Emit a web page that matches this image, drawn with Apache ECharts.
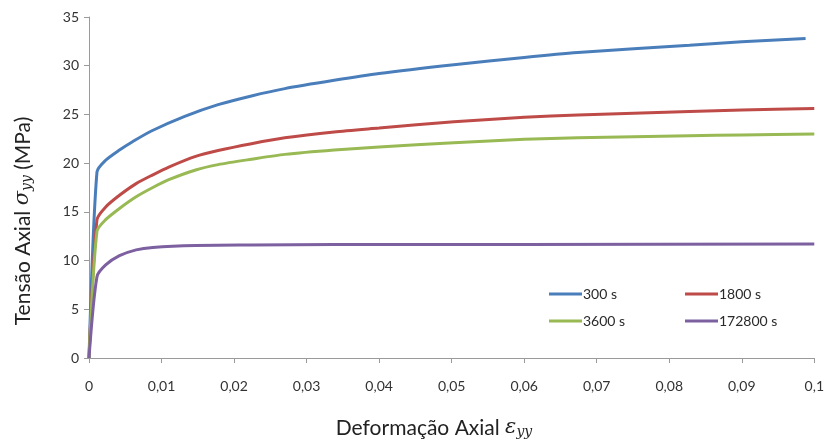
<!DOCTYPE html>
<html>
<head>
<meta charset="utf-8">
<script src="https://cdn.jsdelivr.net/npm/echarts@6/dist/echarts.min.js"></script>
<style>html,body{margin:0;padding:0;background:#fff}#c{width:827px;height:441px}</style>
</head>
<body>
<div id="c"></div>
<script>
const seriesNames = ['300 s', '1800 s', '3600 s', '172800 s'];
const x300 = [0, 0.0011, 0.0023, 0.0042, 0.006, 0.0086, 0.0132, 0.0178, 0.0224, 0.027, 0.0338, 0.04, 0.0503, 0.06, 0.0674, 0.0828, 0.09, 0.0988];
const y300 = [0, 19.1, 20.3, 21.35, 22.2, 23.3, 24.8, 26.0, 26.9, 27.65, 28.5, 29.2, 30.1, 30.85, 31.35, 32.1, 32.45, 32.8];
const x1800 = [0, 0.0011, 0.0023, 0.0042, 0.0065, 0.0088, 0.011, 0.0147, 0.0178, 0.0224, 0.027, 0.0338, 0.04, 0.0503, 0.06, 0.0674, 0.0828, 0.09, 0.1];
const y1800 = [0, 14.2, 15.5, 16.7, 17.9, 18.8, 19.6, 20.7, 21.3, 22.0, 22.6, 23.2, 23.6, 24.25, 24.7, 24.95, 25.3, 25.45, 25.6];
const x3600 = [0, 0.0011, 0.0023, 0.0042, 0.0065, 0.0088, 0.011, 0.0147, 0.0178, 0.0224, 0.027, 0.0338, 0.04, 0.0503, 0.06, 0.0674, 0.0828, 0.09, 0.1];
const y3600 = [0, 13.0, 14.2, 15.35, 16.55, 17.5, 18.3, 19.3, 19.85, 20.4, 20.9, 21.35, 21.65, 22.1, 22.45, 22.6, 22.8, 22.9, 23.0];
const x172800 = [0, 0.0011, 0.0023, 0.0042, 0.0065, 0.0088, 0.0147, 0.0224, 0.0338, 0.06, 0.1];
const y172800 = [0, 8.35, 9.55, 10.5, 11.1, 11.35, 11.55, 11.6, 11.65, 11.65, 11.7];
const colors = ['#4A7EBB', '#BE4B48', '#98B954', '#7D60A0'];
const xTickInterval = 0.01;
const yTickInterval = 5;

const xs = [x300, x1800, x3600, x172800];
const ys = [y300, y1800, y3600, y172800];
const font = 'Lato, "Open Sans", sans-serif';
const mathFont = '"DejaVu Serif", serif';

const titleRich = {
  a: { fontSize: 21, fill: '#222', fontFamily: font },
  g: { fontSize: 21, fill: '#222', fontStyle: 'italic', fontFamily: mathFont },
  s: { fontSize: 14, fill: '#222', fontStyle: 'italic', fontFamily: mathFont, padding: [9, 0, 0, 0] }
};

const chart = echarts.init(document.getElementById('c'));
chart.setOption({
  animation: false,
  textStyle: { fontFamily: font },
  grid: { left: 89, right: 10, top: 17, bottom: 83 },
  legend: [
    { data: ['300 s', '3600 s'], left: 544, top: 282, orient: 'vertical', icon: 'rect',
      itemWidth: 33, itemHeight: 3, itemGap: 13,
      textStyle: { fontSize: 14, color: '#2a2a2a', fontFamily: font, padding: [0, 0, 0, -4] } },
    { data: ['1800 s', '172800 s'], left: 680, top: 282, orient: 'vertical', icon: 'rect',
      itemWidth: 33, itemHeight: 3, itemGap: 13,
      textStyle: { fontSize: 14, color: '#2a2a2a', fontFamily: font, padding: [0, 0, 0, -4] } }
  ],
  xAxis: {
    type: 'value', min: 0, max: 0.1, interval: xTickInterval,
    axisLine: { lineStyle: { color: '#9a9a9a', width: 1 } },
    axisTick: { length: 5, lineStyle: { color: '#9a9a9a' } },
    axisLabel: { margin: 21, fontSize: 14, color: '#333',
      formatter: v => String(+v.toFixed(2)).replace('.', ',') },
    splitLine: { show: false }
  },
  yAxis: {
    type: 'value', min: 0, max: 35, interval: yTickInterval,
    axisLine: { show: true, lineStyle: { color: '#9a9a9a', width: 1 } },
    axisTick: { show: true, length: 5, lineStyle: { color: '#9a9a9a' } },
    axisLabel: { margin: 10, fontSize: 14, color: '#333' },
    splitLine: { show: false }
  },
  graphic: [{
    type: 'text', x: 23, y: 221, rotation: Math.PI / 2,
    style: {
      text: '{a|Tensão Axial }{g|σ}{s|yy}{a| (MPa)}',
      align: 'center', verticalAlign: 'middle', rich: titleRich
    }
  }, {
    type: 'text', x: 434, y: 428,
    style: {
      text: '{a|Deformação Axial }{g|ε}{s|yy}',
      align: 'center', verticalAlign: 'middle', rich: titleRich
    }
  }],
  series: seriesNames.map((n, i) => ({
    name: n, type: 'line', showSymbol: false, smooth: 0.25,
    color: colors[i],
    lineStyle: { width: 3, color: colors[i] },
    data: xs[i].map((x, j) => [x, ys[i][j]])
  }))
});
</script>
</body>
</html>
